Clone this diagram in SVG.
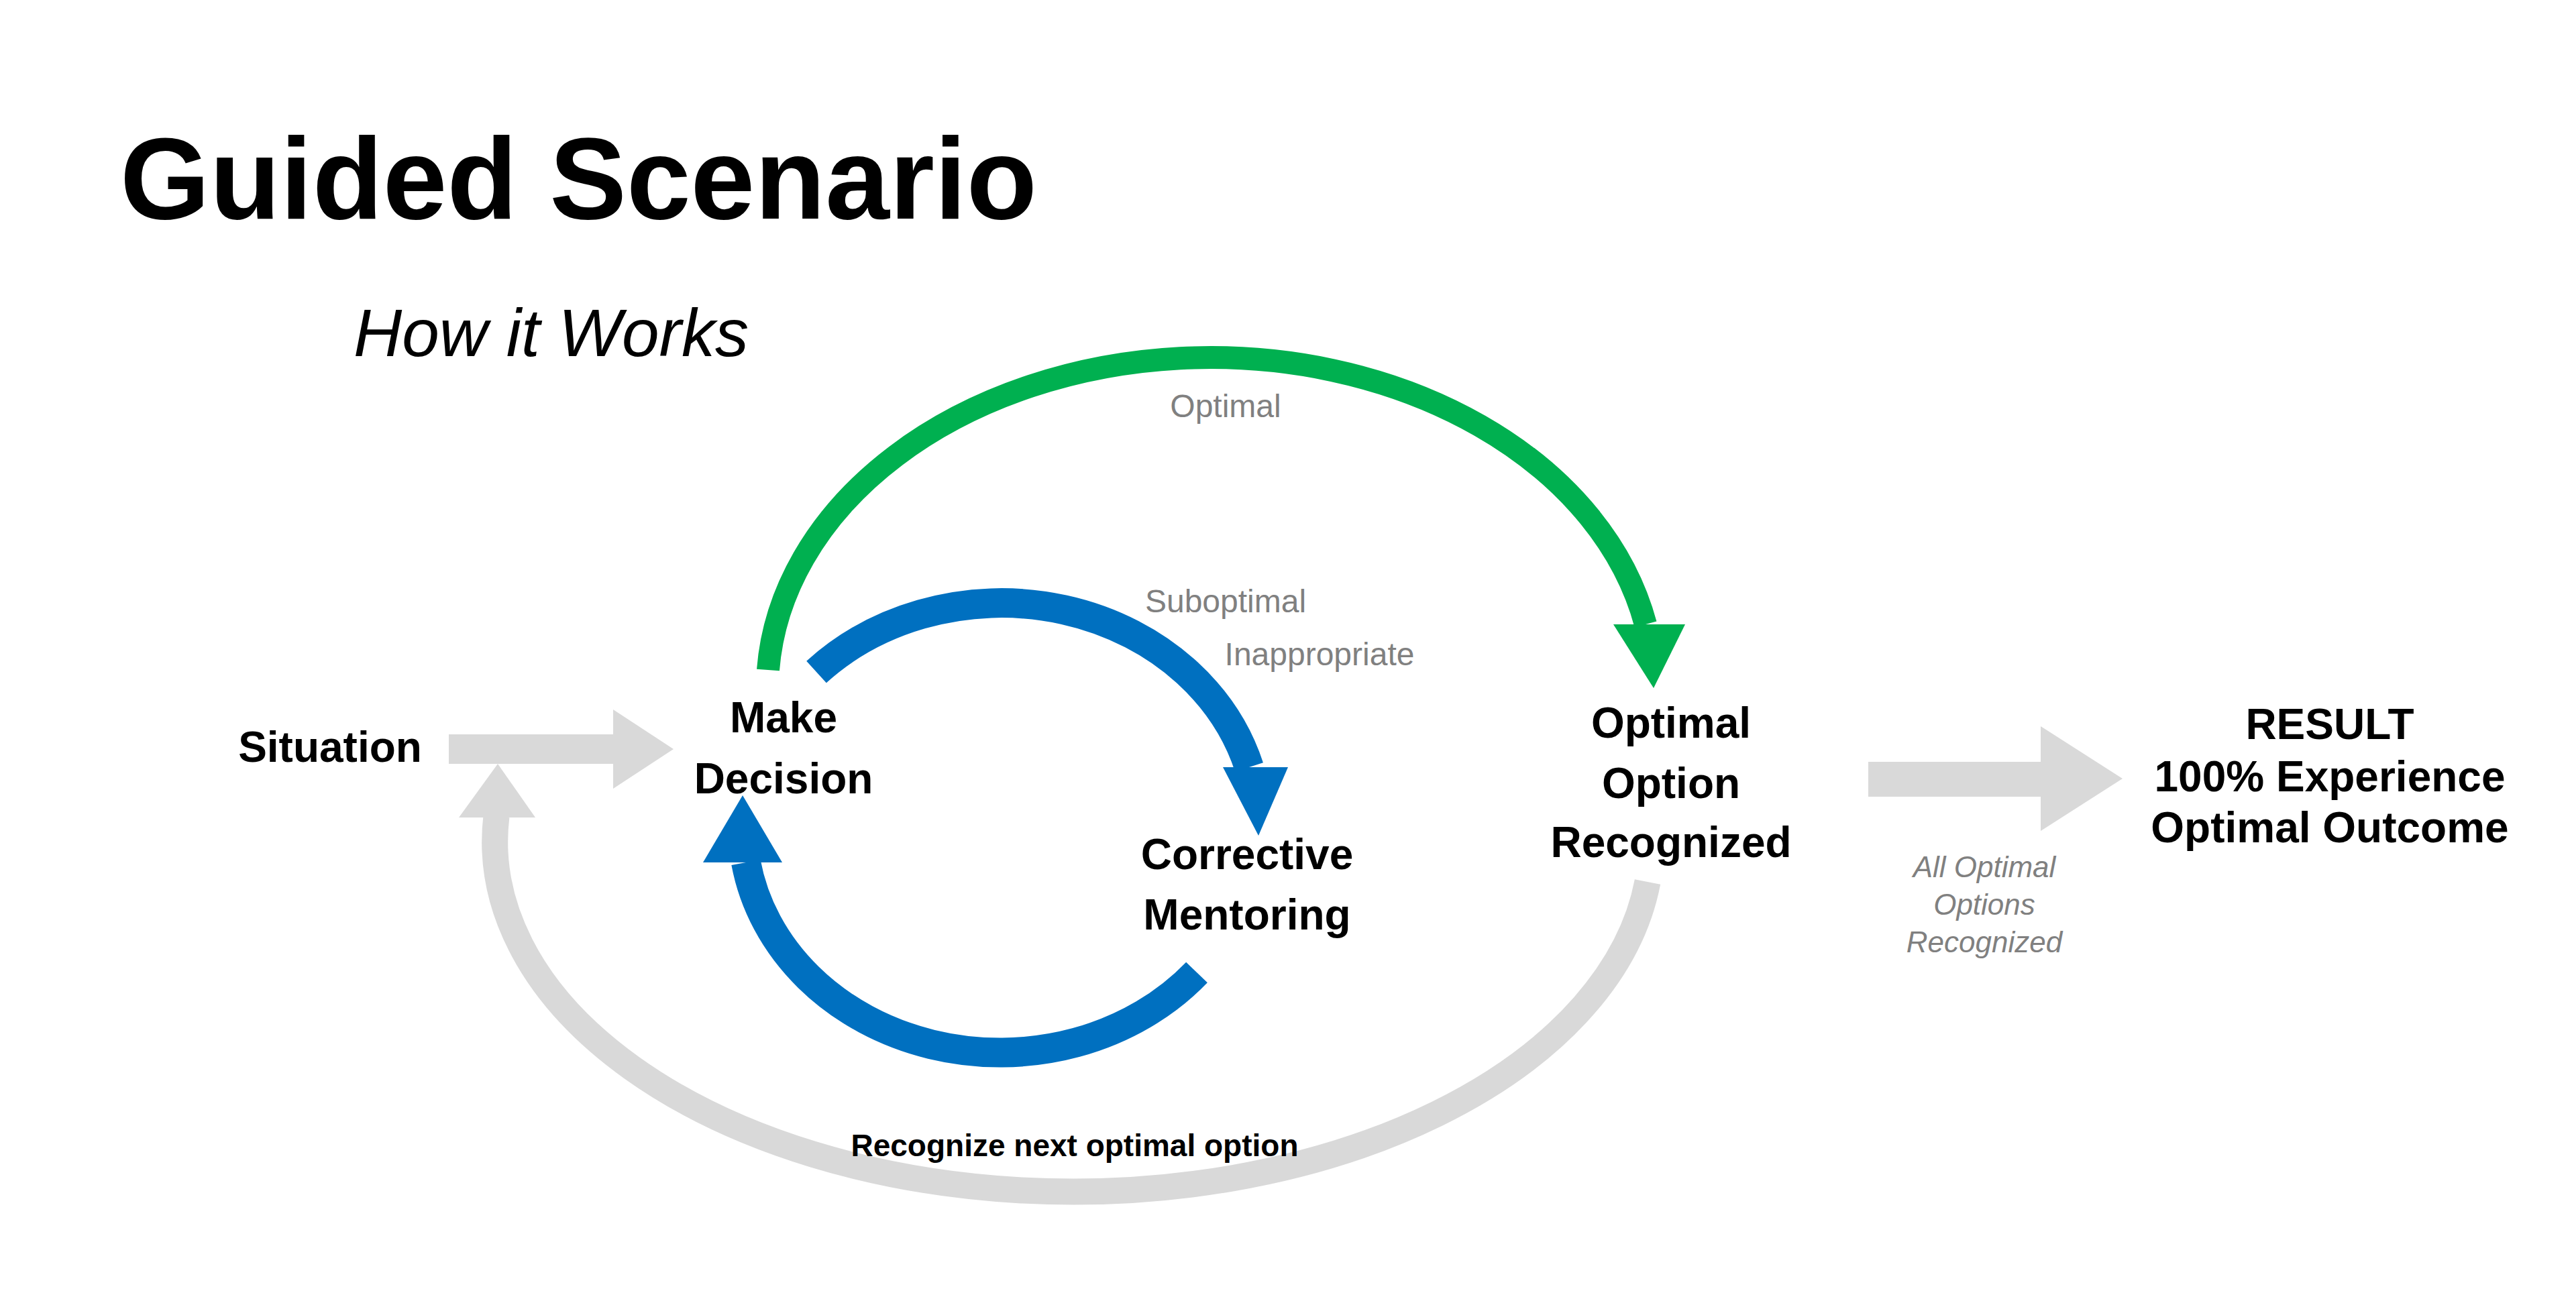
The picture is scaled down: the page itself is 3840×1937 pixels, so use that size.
<svg xmlns="http://www.w3.org/2000/svg" width="3840" height="1937" viewBox="0 0 3840 1937">
<style>
text{font-family:"Liberation Sans",Arial,sans-serif}
.node{font-weight:bold;font-size:64px;fill:#000;text-anchor:middle}
.lbl{font-size:48px;fill:#808080;text-anchor:middle}
.it{font-size:44px;fill:#808080;text-anchor:middle;font-style:italic}
.grey{fill:none;stroke:#d9d9d9;stroke-width:39}
</style>
<rect width="3840" height="1937" fill="#fff"/>
<text x="179" y="326" font-size="172" font-weight="bold">Guided Scenario</text>
<text x="527" y="531" font-size="100" font-style="italic">How it Works</text>
<g id="connectors">
  <path d="M1145,999 A661,495 0 0 1 2453,931" fill="none" stroke="#00b050" stroke-width="34"/>
  <polygon points="2405,931 2512,931 2465,1026" fill="#00b050"/>
  <path d="M1217,1002 A384,338 0 0 1 1862,1144" fill="none" stroke="#0070c0" stroke-width="44"/>
  <polygon points="1823,1144 1920,1144 1876,1246" fill="#0070c0"/>
  <path d="M1784,1450 A384,338 0 0 1 1112,1286" fill="none" stroke="#0070c0" stroke-width="44"/>
  <polygon points="1048,1286 1166,1286 1107,1186" fill="#0070c0"/>
  <path d="M2456,1315 A862,522 0 0 1 740,1217" class="grey"/>
  <polygon points="684,1219 798,1219 742,1139" fill="#d9d9d9"/>
  <polygon points="669,1095 914,1095 914,1058 1004,1117 914,1176 914,1139 669,1139" fill="#d9d9d9"/>
  <polygon points="2785,1136 3042,1136 3042,1083 3164,1161 3042,1239 3042,1188 2785,1188" fill="#d9d9d9"/>
</g>
<text class="lbl" x="1827" y="622">Optimal</text>
<text class="lbl" x="1827" y="913">Suboptimal</text>
<text class="lbl" x="1967" y="992">Inappropriate</text>
<text class="it" x="2958" y="1308">All Optimal</text>
<text class="it" x="2958" y="1364">Options</text>
<text class="it" x="2958" y="1420">Recognized</text>
<text x="1602" y="1724" font-size="46" font-weight="bold" text-anchor="middle">Recognize next optimal option</text>
<g id="situation"><text class="node" x="492" y="1136">Situation</text></g>
<g id="make-decision"><text class="node" x="1168" y="1092">Make</text><text class="node" x="1168" y="1183">Decision</text></g>
<g id="corrective-mentoring"><text class="node" x="1859" y="1296">Corrective</text><text class="node" x="1859" y="1386">Mentoring</text></g>
<g id="optimal-option"><text class="node" x="2491" y="1100">Optimal</text><text class="node" x="2491" y="1190">Option</text><text class="node" x="2491" y="1278">Recognized</text></g>
<g id="result"><text class="node" x="3473" y="1102">RESULT</text><text class="node" x="3473" y="1180" font-size="56">100% Experience</text><text class="node" x="3473" y="1256" font-size="56">Optimal Outcome</text></g>
</svg>
